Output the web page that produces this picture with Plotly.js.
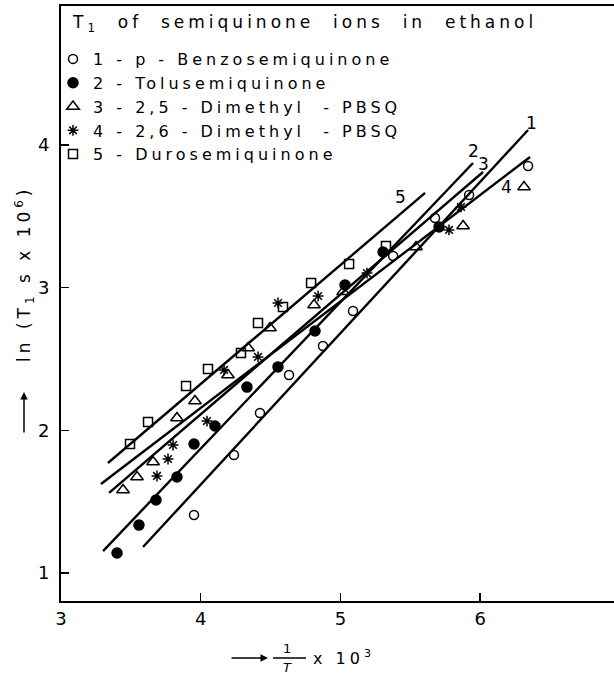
<!DOCTYPE html>
<html>
<head>
<meta charset="utf-8">
<script src="https://cdn.plot.ly/plotly-3.0.1.min.js"></script>
<style>
html,body{margin:0;padding:0;background:#fff;}
#chart{width:614px;height:674px;}
.legendtext{letter-spacing:4px;}
.annotation-text{letter-spacing:4px;}
</style>
</head>
<body>
<div id="chart"></div>
<script>
// Series 1: p-Benzosemiquinone (open circles)
const x1 = [3.952, 4.238, 4.424, 4.632, 4.875, 5.090, 5.377, 5.677, 5.921, 6.343];
const y1 = [1.406, 1.827, 2.121, 2.388, 2.591, 2.836, 3.221, 3.488, 3.649, 3.852];
// Series 2: Tolusemiquinone (filled circles)
const x2 = [3.401, 3.558, 3.680, 3.830, 3.952, 4.102, 4.331, 4.553, 4.818, 5.033, 5.305, 5.706];
const y2 = [1.140, 1.336, 1.512, 1.673, 1.904, 2.030, 2.303, 2.444, 2.696, 3.018, 3.249, 3.425];
// Series 3: 2,5-Dimethyl-PBSQ (triangles)
const x3 = [3.444, 3.544, 3.659, 3.830, 3.959, 4.195, 4.339, 4.496, 4.811, 5.019, 5.541, 5.878, 6.314];
const y3 = [1.582, 1.673, 1.778, 2.086, 2.205, 2.388, 2.577, 2.717, 2.878, 2.970, 3.285, 3.432, 3.705];
// Series 4: 2,6-Dimethyl-PBSQ (asterisks)
const x4 = [3.687, 3.766, 3.802, 4.045, 4.167, 4.410, 4.553, 4.840, 5.190, 5.777, 5.863];
const y4 = [1.680, 1.799, 1.897, 2.065, 2.423, 2.514, 2.892, 2.941, 3.102, 3.404, 3.565];
// Series 5: Durosemiquinone (open squares)
const x5 = [3.494, 3.623, 3.895, 4.052, 4.288, 4.410, 4.589, 4.790, 5.062, 5.326];
const y5 = [1.904, 2.058, 2.310, 2.430, 2.542, 2.752, 2.864, 3.032, 3.165, 3.292];

// Fitted straight lines (end points)
const fitX1 = [3.587, 6.343], fitY1 = [1.182, 4.104];
const fitX2 = [3.301, 5.949], fitY2 = [1.154, 3.873];
const fitX3 = [3.344, 6.021], fitY3 = [1.561, 3.810];
const fitX4 = [3.286, 6.357], fitY4 = [1.624, 3.915];
const fitX5 = [3.336, 5.606], fitY5 = [1.771, 3.663];

const seriesNames = [
  "1 - p - Benzosemiquinone",
  "2 - Tolusemiquinone",
  "3 - 2,5 - Dimethyl  - PBSQ",
  "4 - 2,6 - Dimethyl  - PBSQ",
  "5 - Durosemiquinone"
];
const lineLabels = ["1", "2", "3", "4", "5"];
const lineLabelX = [6.379, 5.965, 6.040, 6.200, 5.441];
const lineLabelY = [4.153, 3.955, 3.865, 3.705, 3.635];

const xTicks = [3, 4, 5, 6];
const yTicks = [1, 2, 3, 4];

const FONT = "DejaVu Sans, sans-serif";
const lineStyle = {color: "black", width: 2.4};

function pts(x, y, name, symbol, size) {
  return {x: x, y: y, name: name, type: "scatter", mode: "markers",
    marker: {symbol: symbol, size: size, color: "black", line: {color: "black", width: 1.5}},
    showlegend: true, cliponaxis: false};
}
function fit(x, y) {
  return {x: x, y: y, type: "scatter", mode: "lines", line: lineStyle,
    showlegend: false, hoverinfo: "skip"};
}

const data = [
  fit(fitX1, fitY1), fit(fitX2, fitY2), fit(fitX3, fitY3), fit(fitX4, fitY4), fit(fitX5, fitY5),
  pts(x1, y1, seriesNames[0], "circle-open", 9),
  pts(x2, y2, seriesNames[1], "circle", 10),
  pts(x3, y3, seriesNames[2], "triangle-up-open", 11),
  pts(x4, y4, seriesNames[3], "asterisk-open", 9),
  pts(x5, y5, seriesNames[4], "square-open", 9)
];

// pixel -> paper helpers for decoration placement (plot area: x 61..614, y 6..601)
const px = p => (p - 61) / 553;
const py = p => (601 - p) / 595;

const annotations = lineLabels.map((t, i) => ({
  x: lineLabelX[i], y: lineLabelY[i], xref: "x", yref: "y", text: t, showarrow: false,
  font: {family: FONT, size: 17, color: "black"}
}));

annotations.push(
  {x: px(70), y: py(23), xref: "paper", yref: "paper", xanchor: "left", yanchor: "middle",
   text: "T<sub>1</sub>  of  semiquinone  ions  in  ethanol", showarrow: false,
   font: {family: FONT, size: 17, color: "black"}},
  {x: px(24), y: py(274), xref: "paper", yref: "paper", xanchor: "center", yanchor: "middle",
   text: "ln (T<sub>1</sub> s x 10<sup>6</sup>)", textangle: -90, showarrow: false,
   font: {family: FONT, size: 17, color: "black"}},
  {x: px(24), y: py(392), xref: "paper", yref: "paper", text: "", showarrow: true,
   ax: 0, ay: 42, arrowhead: 2, arrowsize: 1, arrowwidth: 1.5, arrowcolor: "black"},
  {x: px(268), y: py(658), xref: "paper", yref: "paper", text: "", showarrow: true,
   ax: -38, ay: 0, arrowhead: 2, arrowsize: 1, arrowwidth: 1.5, arrowcolor: "black"},
  {x: px(289), y: py(648), xref: "paper", yref: "paper", xanchor: "center", yanchor: "middle",
   text: "1", showarrow: false, font: {family: FONT, size: 13, color: "black"}},
  {x: px(289), y: py(667), xref: "paper", yref: "paper", xanchor: "center", yanchor: "middle",
   text: "<i>T</i>", showarrow: false, font: {family: FONT, size: 13, color: "black"}},
  {x: px(311), y: py(657), xref: "paper", yref: "paper", xanchor: "left", yanchor: "middle",
   text: "x 10<sup>3</sup>", showarrow: false, font: {family: FONT, size: 16, color: "black"}}
);

const layout = {
  width: 614, height: 674,
  margin: {l: 61, r: 0, t: 6, b: 73, pad: 0},
  paper_bgcolor: "white", plot_bgcolor: "white",
  font: {family: FONT, color: "black"},
  showlegend: true,
  legend: {x: px(53), y: py(42), xanchor: "left", yanchor: "top", bgcolor: "rgba(0,0,0,0)",
    font: {family: FONT, size: 16, color: "black"}, itemclick: false, traceorder: "normal"},
  xaxis: {range: [3, 6.958], tickvals: xTicks, ticktext: xTicks.map(String), ticks: "inside", ticklen: 8,
    tickwidth: 1.5, tickcolor: "black", showline: true, linewidth: 2, linecolor: "black", mirror: true,
    showgrid: false, zeroline: false, tickfont: {family: FONT, size: 18, color: "black"}, ticklabelstandoff: 0},
  yaxis: {range: [0.804, 4.973], tickvals: yTicks, ticktext: yTicks.map(String), ticks: "inside", ticklen: 8,
    tickwidth: 1.5, tickcolor: "black", showline: true, linewidth: 2, linecolor: "black",
    showgrid: false, zeroline: false, tickfont: {family: FONT, size: 18, color: "black"}, ticklabelstandoff: 6},
  shapes: [
    {type: "line", xref: "paper", yref: "paper", x0: px(273), x1: px(306), y0: py(658), y1: py(658),
     line: {color: "black", width: 1.5}}
  ],
  annotations: annotations
};

Plotly.newPlot("chart", data, layout, {staticPlot: true, displayModeBar: false});
</script>
</body>
</html>
